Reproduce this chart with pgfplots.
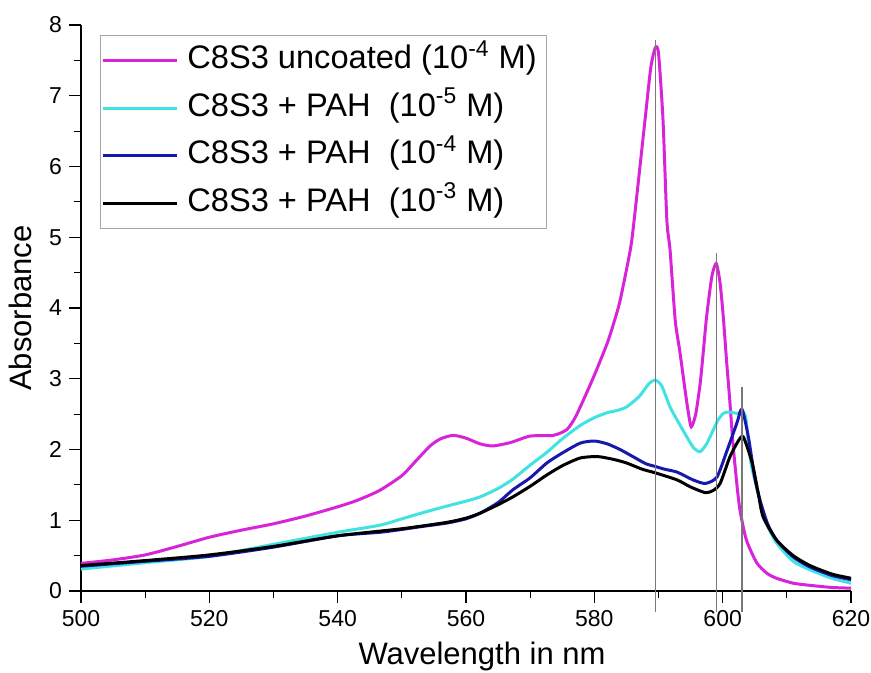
\documentclass[border=0pt]{standalone}
\usepackage{fontspec}
\setmainfont{Liberation Sans}
\usepackage{pgfplots}
\pgfplotsset{compat=1.18}
\definecolor{cmag}{RGB}{216,36,216}
\definecolor{ccyan}{RGB}{64,226,226}
\definecolor{cblue}{RGB}{24,24,172}
\definecolor{cvline}{RGB}{120,120,120}
\begin{document}
\begin{tikzpicture}
\begin{axis}[
  at={(0,0)}, anchor=south west,
  scale only axis, width=385pt, height=283pt,
  xmin=500, xmax=620, ymin=0, ymax=8,
  axis lines*=left,
  clip=false,
  xtick={500,520,...,620}, ytick={0,1,...,8},
  minor x tick num=1, minor y tick num=1,
  tick align=outside,
  major tick length=6pt, minor tick length=3.5pt,
  tick style={black, line width=0.6pt},
  axis line style={black, line width=0.7pt},
  /pgf/number format/assume math mode=true,
  /pgf/number format/.cd, 1000 sep={}, /pgfplots/.cd,
  ticklabel style={font=\fontsize{11.5}{13}\selectfont},
  xlabel={Wavelength in nm}, ylabel={Absorbance},
  label style={font=\fontsize{15.5}{18}\selectfont},
  xlabel style={yshift=-1pt, xshift=8pt},
  ylabel style={yshift=2pt},
  legend cell align=left,
  legend style={at={(0.0247,0.982)}, anchor=north west, draw=gray!70, line width=0.6pt,
    inner sep=0.5pt,
    nodes={font=\fontsize{16.3}{18}\selectfont, text height=11.5pt, text depth=3.5pt, inner sep=4.4pt}},
  legend image code/.code={\draw[#1, line width=1.5pt] (0pt,0pt) -- (37pt,0pt);},
  every axis plot/.append style={smooth, tension=0.4},
]
\addplot[cmag, line width=1.5pt] coordinates {
(500,0.39) (505,0.44) (510,0.51) (515,0.63) (520,0.76) (525,0.86) (530,0.95) (535,1.06)
(540,1.19) (543,1.28) (546.5,1.42) (550,1.63) (552,1.82) (554.4,2.05) (556,2.15) (558,2.2)
(560,2.16) (562.2,2.08) (564.2,2.05) (567,2.10) (570,2.19) (573.6,2.2) (575.7,2.28) (577,2.45)
(578.3,2.7) (580,3.05) (582,3.5) (583,3.78) (584,4.1) (585.6,4.82) (586.2,5.24) (587.9,6.66)
(588.8,7.4) (589.5,7.68) (590,7.6) (590.7,6.66) (591.3,5.24) (591.8,4.82) (592.6,3.83)
(593.3,3.4) (594.2,2.8) (594.6,2.55) (595.1,2.32) (595.8,2.5) (596.5,2.94) (597,3.4) (597.5,3.88)
(598.3,4.44) (599,4.63) (599.6,4.35) (600.1,3.87) (600.6,3.26) (601.1,2.7) (601.6,2.09)
(602.2,1.52) (602.7,1.14) (603.7,0.72) (605.3,0.4) (606.9,0.25) (608.4,0.18) (611,0.11)
(613.6,0.08) (617,0.05) (620,0.04)};
\addlegendentry{C8S3 uncoated (10\textsuperscript{-4} M)}
\addplot[ccyan, line width=1.5pt] coordinates {
(500,0.31) (510,0.40) (520,0.49) (530,0.66) (540,0.83) (546.6,0.93) (550,1.02) (553,1.1)
(557,1.2) (560,1.27) (562.2,1.33) (565,1.45) (567.3,1.58) (570,1.78) (572.6,1.96) (575,2.15)
(577.8,2.34) (580,2.45) (582,2.52) (583.5,2.55) (585,2.6) (587,2.75) (588.5,2.93) (589.5,2.98)
(590.5,2.9) (591.8,2.6) (593,2.4) (594.4,2.18) (595.5,2.02) (596.5,1.97) (597.5,2.08)
(598.5,2.27) (599.3,2.42) (600.1,2.51) (601,2.53) (602.4,2.51) (603,2.55) (603.6,2.45)
(604,2.1) (604.5,1.76) (605.8,1.29) (606.3,1.05) (608.4,0.68) (611,0.42) (613.6,0.3)
(617,0.18) (620,0.11)};
\addlegendentry{C8S3 + PAH\ \ (10\textsuperscript{-5} M)}
\addplot[cblue, line width=1.5pt] coordinates {
(500,0.35) (510,0.42) (520,0.49) (530,0.62) (540,0.78) (546.6,0.83) (550,0.87) (553,0.91)
(557,0.96) (560,1.02) (562.2,1.1) (565,1.25) (567.3,1.43) (570,1.6) (572.6,1.81) (575,1.95)
(577.8,2.09) (580,2.12) (582,2.08) (584,2.0) (586,1.9) (588,1.8) (589.5,1.76) (591,1.72)
(592.9,1.68) (595.4,1.57) (597.3,1.52) (599.1,1.61) (600.7,1.99) (602.2,2.37) (603,2.57)
(604,2.18) (605,1.6) (605.8,1.29) (607,0.95) (608.4,0.72) (611,0.48) (613.6,0.34)
(617,0.22) (620,0.16)};
\addlegendentry{C8S3 + PAH\ \ (10\textsuperscript{-4} M)}
\addplot[black, line width=1.5pt] coordinates {
(500,0.36) (510,0.43) (520,0.51) (530,0.63) (540,0.78) (550,0.88) (557,0.97) (560,1.03)
(562.2,1.1) (565,1.22) (567.3,1.33) (570,1.48) (572.6,1.64) (575,1.77) (577.8,1.88)
(580.5,1.90) (583,1.86) (585,1.81) (587.5,1.72) (589.5,1.67) (592.9,1.57) (595,1.47)
(597.3,1.39) (598.5,1.42) (599.6,1.52) (601.1,1.89) (602.3,2.1) (603.2,2.18) (604.6,1.81)
(605.5,1.4) (606.3,1.05) (608.4,0.72) (611,0.5) (613.6,0.36) (617,0.24) (620,0.18)};
\addlegendentry{C8S3 + PAH\ \ (10\textsuperscript{-3} M)}
\addplot[cvline, line width=0.6pt, forget plot, sharp plot] coordinates {(589.5,-0.3) (589.5,7.79)};
\addplot[cvline, line width=0.6pt, forget plot, sharp plot] coordinates {(599,-0.3) (599,4.78)};
\addplot[cvline, line width=0.6pt, forget plot, sharp plot] coordinates {(603,-0.3) (603,2.89)};
\end{axis}
\pgfresetboundingbox
\path (-40.5pt,-41pt) rectangle (395pt,295.5pt);
\end{tikzpicture}
\end{document}
